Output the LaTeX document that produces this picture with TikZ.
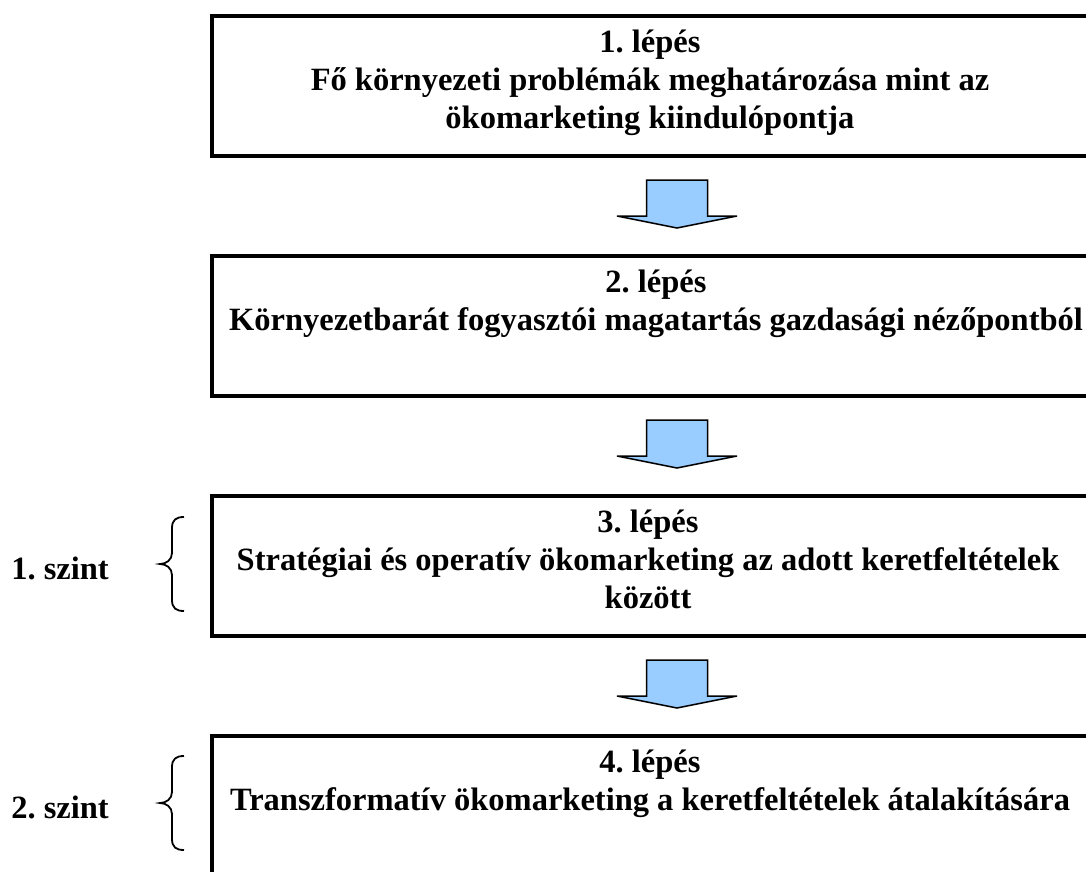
\documentclass[tikz,border=0pt]{standalone}
\usepackage{fontspec}
\setmainfont{Liberation Serif}
\frenchspacing
\definecolor{arrowblue}{HTML}{99CCFF}
\begin{document}
\begin{tikzpicture}[x=1pt,y=-1pt,
  stepbox/.style={draw=black,line width=4pt,fill=white,rectangle,inner sep=0pt,
    anchor=north west,minimum width=882pt,minimum height=140pt},
  steptext/.style={anchor=north,align=center,inner sep=0pt,
    font=\fontsize{32.5}{38}\selectfont\bfseries},
  leveltext/.style={anchor=base,inner sep=0pt,
    font=\fontsize{32.5}{38}\selectfont\bfseries},
  levelbrace/.style={draw=black,line width=1.8pt},
  flowarrow/.style={draw=black,line width=1.5pt,fill=arrowblue,line join=miter},
  pics/downarrow/.style={code={
    \draw[flowarrow] (-30.5,0) -- (30.5,0) -- (30.5,36) -- (60,36) -- (0,48)
      -- (-60,36) -- (-30.5,36) -- cycle;}}]
\useasboundingbox (0,0) rectangle (1086,872);
\clip (0,0) rectangle (1086,872);

% the four steps
\node[stepbox] (b1) at (210,14) {};
\node[stepbox] (b2) at (210,254) {};
\node[stepbox] (b3) at (210,494) {};
\node[stepbox] (b4) at (210,734) {};

\node[steptext] (t1) at (650,30) {1. lépés\\Fő környezeti problémák meghatározása mint az\\ökomarketing kiindulópontja};
\node[steptext] (t2) at (656,270) {2. lépés\\Környezetbarát fogyasztói magatartás gazdasági nézőpontból};
\node[steptext] (t3) at (648,510) {3. lépés\\Stratégiai és operatív ökomarketing az adott keretfeltételek\\között};
\node[steptext] (t4) at (650,750) {4. lépés\\Transzformatív ökomarketing a keretfeltételek átalakítására};

% block arrows between the steps
\coordinate (a1) at (677,180);
\coordinate (a2) at (677,420);
\coordinate (a3) at (677,660);
\pic at (a1) {downarrow};
\pic at (a2) {downarrow};
\pic at (a3) {downarrow};

% levels with their braces
\node[leveltext] (l1) at (60,579) {1. szint};
\node[leveltext] (l2) at (60,818) {2. szint};

\coordinate (br1) at (160,564);
\coordinate (br2) at (160,803);
\draw[levelbrace] ([shift={(24,-47)}]br1) .. controls ([shift={(16,-47)}]br1) and ([shift={(12,-44)}]br1) .. ([shift={(12,-36)}]br1)
  -- ([shift={(12,-11)}]br1) .. controls ([shift={(12,-4)}]br1) and ([shift={(6,0)}]br1) .. (br1)
  .. controls ([shift={(6,0)}]br1) and ([shift={(12,4)}]br1) .. ([shift={(12,11)}]br1)
  -- ([shift={(12,36)}]br1) .. controls ([shift={(12,44)}]br1) and ([shift={(16,47)}]br1) .. ([shift={(24,47)}]br1);
\draw[levelbrace] ([shift={(24,-47)}]br2) .. controls ([shift={(16,-47)}]br2) and ([shift={(12,-44)}]br2) .. ([shift={(12,-36)}]br2)
  -- ([shift={(12,-11)}]br2) .. controls ([shift={(12,-4)}]br2) and ([shift={(6,0)}]br2) .. (br2)
  .. controls ([shift={(6,0)}]br2) and ([shift={(12,4)}]br2) .. ([shift={(12,11)}]br2)
  -- ([shift={(12,36)}]br2) .. controls ([shift={(12,44)}]br2) and ([shift={(16,47)}]br2) .. ([shift={(24,47)}]br2);
\end{tikzpicture}
\end{document}
